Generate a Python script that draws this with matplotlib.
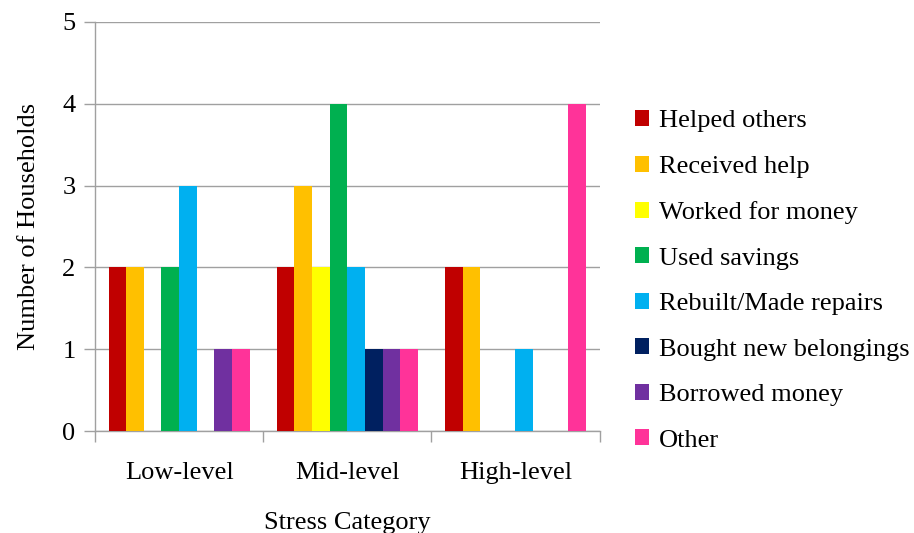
import numpy as np
import matplotlib
matplotlib.use('Agg')
import matplotlib.pyplot as plt
from matplotlib.ticker import FixedLocator, NullFormatter

categories = ['Low-level', 'Mid-level', 'High-level']
series = ['Helped others', 'Received help', 'Worked for money', 'Used savings',
          'Rebuilt/Made repairs', 'Bought new belongings', 'Borrowed money', 'Other']
values = {
    'Helped others':         [2, 2, 2],
    'Received help':         [2, 3, 2],
    'Worked for money':      [0, 2, 0],
    'Used savings':          [2, 4, 0],
    'Rebuilt/Made repairs':  [3, 2, 1],
    'Bought new belongings': [0, 1, 0],
    'Borrowed money':        [1, 1, 0],
    'Other':                 [1, 1, 4],
}
colors = ['#C00000', '#FFC000', '#FFFF00', '#00B050',
          '#00B0F0', '#002060', '#7030A0', '#FF3399']

plt.rcParams['font.family'] = ['Liberation Serif', 'DejaVu Serif']

fig = plt.figure(figsize=(9.14, 5.33), dpi=100)
ax = fig.add_axes([0.104, 0.191, 0.552, 0.768])

x = np.arange(len(categories))
w = 0.105
n = len(series)
for i, (name, c) in enumerate(zip(series, colors)):
    ax.bar(x + (i - (n - 1) / 2) * w, values[name], width=w, color=c,
           label=name, zorder=3)

ax.set_xlim(-0.5, len(categories) - 0.5)
ax.set_ylim(0, 5)
ax.set_yticks(range(6))
ax.yaxis.grid(True, color='#a0a0a0', linewidth=1.0, zorder=0)
ax.set_xticks(x)
ax.set_xticklabels(categories)
ax.tick_params(axis='x', which='major', length=0, pad=22, labelsize=19)
ax.xaxis.set_minor_locator(FixedLocator(np.arange(-0.5, len(categories), 1.0)))
ax.xaxis.set_minor_formatter(NullFormatter())
ax.tick_params(axis='x', which='minor', length=8, color='#a0a0a0', width=1)
ax.tick_params(axis='y', length=8, color='#a0a0a0', width=1, pad=6, labelsize=19)

for s in ['top', 'right']:
    ax.spines[s].set_visible(False)
for s in ['left', 'bottom']:
    ax.spines[s].set_color('#a0a0a0')
    ax.spines[s].set_linewidth(1.0)

ax.set_ylabel('Number of Households', fontsize=19, labelpad=16)
ax.set_xlabel('Stress Category', fontsize=19, labelpad=20)

fig.legend(loc='center left', bbox_to_anchor=(0.683, 0.473), frameon=False,
           fontsize=19, handlelength=0.55, handleheight=0.55, handletextpad=0.35,
           labelspacing=0.88, borderaxespad=0)

fig.savefig('out.png', dpi=100)
